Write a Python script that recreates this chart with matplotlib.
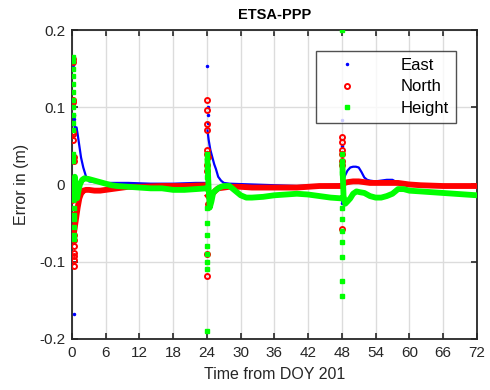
import numpy as np
import matplotlib.pyplot as plt
from matplotlib.lines import Line2D

plt.rcParams['font.family'] = ['Liberation Sans', 'DejaVu Sans']

# East (blue) continuous part, three sessions split by NaN
east_t = [0.3, 0.5, 0.8, 1.0, 1.3, 1.6, 2.0, 2.5, 3.0, 4, 6, 10, 14, 18, 22, 23.9, np.nan,
          24.1, 24.3, 24.6, 25.0, 25.3, 25.6, 26.0, 26.5, 27, 28, 32, 36, 40, 44, 47.9, np.nan,
          48.2, 48.6, 49.0, 49.5, 50.0, 50.5, 51.0, 51.5, 52.0, 52.5, 53, 54, 55, 56, 57, 58, 59, 60, 62, 66, 72]
east_v = [0.09, 0.072, 0.074, 0.065, 0.05, 0.035, 0.022, 0.01, 0.004, 0.003, 0.002, 0.002, 0.001, 0.001, 0.002, 0.002, np.nan,
          0.07, 0.058, 0.045, 0.034, 0.026, 0.02, 0.01, 0.005, 0.002, 0.001, 0.0, -0.001, -0.002, -0.001, 0.0, np.nan,
          0.005, 0.012, 0.018, 0.022, 0.023, 0.023, 0.022, 0.016, 0.009, 0.006, 0.005, 0.004, 0.005, 0.006, 0.006, 0.002, 0.0, -0.001, -0.002, -0.001, -0.001]
# East outliers at the session starts
east_st = [0.15, 0.18, 0.2, 0.22, 0.24, 0.26, 0.28, 0.3, 0.3, 24.0, 24.1, 24.1, 24.15, 48.0, 48.0, 48.05, 48.05, 48.1]
east_sv = [0.155, 0.14, 0.13, 0.12, 0.11, 0.1, 0.09, 0.085, -0.168, 0.153, 0.1, 0.09, 0.08, 0.083, 0.05, 0.03, -0.02, -0.024]

# North (red)
north_t = [0.4, 0.6, 0.8, 1.0, 1.3, 1.6, 2.0, 2.5, 3, 4, 5, 6, 8, 10, 12, 16, 20, 23.9, np.nan,
           24.2, 24.5, 25.0, 25.5, 26, 27, 28, 30, 32, 36, 40, 44, 47.9, np.nan,
           48.2, 48.5, 49, 50, 51, 52, 53, 54, 56, 58, 60, 62, 66, 72]
north_v = [-0.06, -0.05, -0.04, -0.03, -0.018, -0.012, -0.008, -0.007, -0.007, -0.008, -0.008, -0.007, -0.005, -0.003, -0.003, -0.002, -0.002, -0.001, np.nan,
           -0.015, -0.018, -0.012, -0.008, -0.005, -0.004, -0.003, -0.003, -0.004, -0.004, -0.004, -0.002, -0.002, np.nan,
           0.0, 0.002, 0.003, 0.004, 0.004, 0.003, 0.002, 0.002, 0.002, 0.002, 0.0, -0.001, -0.002, -0.002]
north_st = [0.1, 0.12, 0.15, 0.18, 0.2, 0.22, 0.25, 0.28, 0.3, 0.0, 0.3, 0.35, 0.3, 0.28, 0.32, 0.3, 0.35, 0.05,
            24.0, 24.0, 24.0, 24.0, 24.05, 24.05, 24.1, 24.05, 24.0, 23.95, 24.1, 24.0, 24.0,
            48.0, 48.0, 48.0, 48.05, 48.0, 48.0, 48.0]
north_sv = [0.162, 0.158, 0.11, 0.107, 0.068, 0.065, 0.057, 0.035, 0.03, -0.033, -0.065, -0.072, -0.08, -0.089, -0.093, -0.098, -0.106, -0.02,
            0.11, 0.097, 0.078, 0.07, 0.045, 0.04, 0.035, 0.025, 0.018, -0.005, -0.025, -0.09, -0.118,
            0.062, 0.055, 0.045, 0.04, 0.03, 0.025, -0.058]

# Height (green)
height_t = [0.3, 0.5, 0.7, 0.9, 1.1, 1.4, 1.8, 2.2, 3, 4, 5, 6, 7, 8, 10, 12, 14, 16, 18, 20, 22, 23.9, np.nan,
            24.1, 24.3, 24.5, 24.8, 25.1, 25.5, 26, 26.5, 27, 28, 29, 30, 31, 32, 34, 36, 38, 40, 42, 44, 46, 47.9, np.nan,
            48.1, 48.3, 48.6, 49, 49.5, 50, 50.6, 51.2, 52, 53, 54, 55, 56, 57, 58, 59, 60, 62, 64, 66, 68, 70, 72]
height_v = [-0.02, 0.01, -0.005, -0.018, -0.01, 0.0, 0.006, 0.008, 0.007, 0.005, 0.003, 0.001, -0.001, -0.002, -0.003, -0.004, -0.005, -0.005, -0.007, -0.007, -0.006, -0.005, np.nan,
            0.03, -0.005, -0.03, -0.022, -0.011, -0.008, -0.005, -0.003, -0.002, -0.002, -0.008, -0.014, -0.017, -0.017, -0.016, -0.014, -0.013, -0.012, -0.013, -0.015, -0.017, -0.018, np.nan,
            0.025, -0.015, -0.025, -0.022, -0.018, -0.012, -0.009, -0.01, -0.011, -0.015, -0.017, -0.017, -0.015, -0.012, -0.006, -0.006, -0.008, -0.009, -0.01, -0.011, -0.012, -0.013, -0.014]
height_st = [0.12, 0.13, 0.14, 0.15, 0.16, 0.17, 0.18, 0.19, 0.2, 0.21, 0.22, 0.24, 0.25, 0.26, 0.28, 0.3, 0.3, 0.32, 0.3, 0.28,
             24.0, 24.0, 24.0, 24.05, 24.0, 24.0, 24.05, 24.0, 24.0, 24.05, 24.0, 24.0,
             48.1, 48.0, 48.0, 48.0, 48.0, 48.0, 48.0, 48.0, 48.0, 48.0, 48.0]
height_sv = [0.165, 0.16, 0.15, 0.14, 0.13, 0.12, 0.11, 0.1, 0.09, 0.08, 0.07, 0.04, 0.035, 0.03, -0.03, -0.045, -0.055, -0.065, -0.07, -0.04,
             0.04, 0.035, 0.02, 0.01, -0.03, -0.05, -0.065, -0.08, -0.09, -0.1, -0.11, -0.19,
             0.2, 0.04, 0.03, 0.015, -0.03, -0.045, -0.06, -0.075, -0.094, -0.125, -0.145]

xticks = [0, 6, 12, 18, 24, 30, 36, 42, 48, 54, 60, 66, 72]
yticks = [-0.2, -0.1, 0, 0.1, 0.2]
ytick_labels = ['-0.2', '-0.1', '0', '0.1', '0.2']

fig = plt.figure(figsize=(4.9, 3.9), dpi=100)
ax = fig.add_axes([0.147, 0.131, 0.826, 0.792])

# East
ax.plot(east_t, east_v, color='#0000ff', lw=1.6, zorder=3)
ax.plot(east_st, east_sv, '.', color='#0000ff', ms=3, zorder=3)
# North
ax.plot(north_t, north_v, color='#ff0000', lw=4.2, zorder=4)
ax.plot(north_st, north_sv, 'o', color='#ff0000', mfc='none', ms=3.6, mew=1.4, zorder=4)
# Height
ax.plot(height_t, height_v, color='#00ff00', lw=4.2, zorder=5)
ax.plot(height_st, height_sv, 's', color='#00ff00', ms=2.8, zorder=5)

ax.set_xlim(0, 72)
ax.set_ylim(-0.2, 0.2)
ax.set_xticks(xticks)
ax.set_yticks(yticks)
ax.set_yticklabels(ytick_labels)
ax.grid(True, color='#dcdcdc', lw=1.0)
ax.set_axisbelow(True)
ax.tick_params(direction='in', top=True, right=True, length=4, width=1.2,
               labelsize=11, colors='#262626', pad=5)
for s in ax.spines.values():
    s.set_linewidth(1.3)
    s.set_color('#262626')

ax.set_title('ETSA-PPP', fontsize=10.5, fontweight='bold', pad=8)
ax.set_xlabel('Time from DOY 201', fontsize=11.5, color='#262626', labelpad=5)
ax.set_ylabel('Error in (m)', fontsize=11.5, color='#262626', labelpad=7)

handles = [
    Line2D([], [], marker='.', color='#0000ff', ls='none', ms=3),
    Line2D([], [], marker='o', color='#ff0000', mfc='none', ls='none', ms=3.6, mew=1.4),
    Line2D([], [], marker='s', color='#00ff00', ls='none', ms=2.8),
]
leg = ax.legend(handles, ['East', 'North', 'Height'], loc='upper right',
                bbox_to_anchor=(0.948, 0.932), fontsize=12, frameon=True,
                fancybox=False, edgecolor='#262626', handlelength=2.9,
                handletextpad=1.8, borderpad=0.4, labelspacing=0.4, borderaxespad=0)
leg.get_frame().set_linewidth(1.0)

fig.savefig('out.png', dpi=100)
